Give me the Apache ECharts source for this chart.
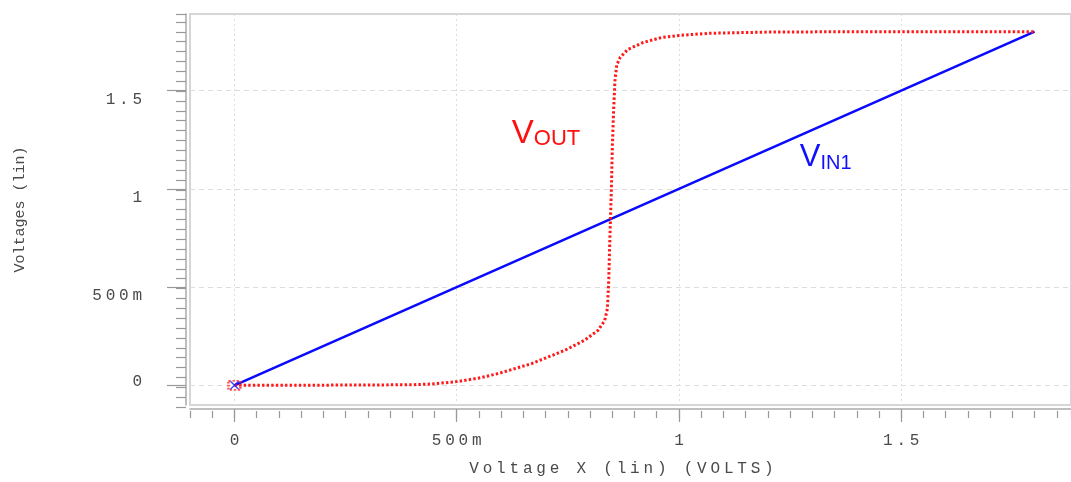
<!DOCTYPE html>
<html><head><meta charset="utf-8">
<script src="https://cdn.jsdelivr.net/npm/echarts@6/dist/echarts.min.js"></script>
<style>html,body{margin:0;padding:0;background:#fff}#c{width:1071px;height:482px}</style>
</head><body><div id="c"></div>
<script>
// ---- data ----
const vinX = [0, 0.5, 1.0, 1.5, 1.8];
const vinY = [0, 0.5, 1.0, 1.5, 1.8];
const voutX = [0, 0.1, 0.2, 0.3, 0.4, 0.445, 0.5, 0.55, 0.595, 0.669, 0.744, 0.788, 0.818, 0.833, 0.839,
  0.842, 0.844, 0.846, 0.848, 0.850, 0.853, 0.856, 0.860, 0.868, 0.885, 0.92, 0.96, 1.0, 1.07, 1.2, 1.4, 1.8];
const voutY = [0, 0, 0.001, 0.002, 0.003, 0.007, 0.019, 0.037, 0.061, 0.111, 0.179, 0.23, 0.28, 0.33, 0.39,
  0.53, 0.7, 0.85, 1.0, 1.2, 1.4, 1.55, 1.63, 1.67, 1.71, 1.745, 1.77, 1.781, 1.792, 1.798, 1.8, 1.8];
const majorTicks = [0, 0.5, 1, 1.5];
const tickLabels = ['0', '500m', '1', '1.5'];
const xAxisName = 'Voltage X (lin) (VOLTS)';
const yAxisName = 'Voltages (lin)';
const voutLabel = ['V', 'OUT'];
const vinLabel = ['V', 'IN1'];
const voutLabelAt = [0.624, 1.196];
const vinLabelAt = [1.272, 1.08];

// ---- helpers ----
function spaced(str, st) {
  return str.split('').map(c => '{' + st + '|' + c + '}').join('');
}
function labelFor(v) {
  const i = majorTicks.findIndex(t => Math.abs(t - v) < 1e-6);
  return i >= 0 ? tickLabels[i] : '';
}
const MONO = 'Liberation Mono';
const TXT = '#4a4a4a';
const charStyle = (pad) => ({fontFamily: MONO, fontSize: 16, color: TXT, padding: pad});

const gridPos = {left: 190, right: -3, top: 14, bottom: 75};
const xMin = -0.1, xMax = 1.882, yMin = -0.1, yMax = 1.89;

const chart = echarts.init(document.getElementById('c'), null, {renderer: 'canvas'});
const option = {
  animation: false,
  backgroundColor: '#fff',
  grid: [
    Object.assign({show: true, borderColor: '#d6d6d6', borderWidth: 2, containLabel: false}, gridPos),
    Object.assign({show: false}, gridPos)
  ],
  xAxis: [
    {
      type: 'value', gridIndex: 0, min: xMin, max: xMax, offset: 4,
      axisLine: {show: true, onZero: false, lineStyle: {color: '#aaa', width: 1.5}},
      axisTick: {show: true, customValues: majorTicks, length: 13, lineStyle: {color: '#999', width: 1.2}},
      axisLabel: {
        customValues: majorTicks, margin: 24,
        formatter: v => spaced(labelFor(v), 'c'),
        rich: {c: charStyle([0, 1.9, 0, 1.9])}
      },
      splitLine: {show: true, lineStyle: {color: '#ddd', type: [2, 3], width: 1}},
      name: spaced(xAxisName, 'n'), nameLocation: 'middle', nameGap: 52,
      nameTextStyle: {padding: [0, 18, 0, 0], rich: {n: charStyle([0, 1.9, 0, 1.9])}}
    },
    {
      type: 'value', gridIndex: 1, min: xMin, max: xMax, interval: 0.05, offset: 4,
      axisLine: {show: false, onZero: false},
      axisTick: {show: true, length: 7, lineStyle: {color: '#999', width: 1.2}},
      axisLabel: {show: false}, splitLine: {show: false}
    }
  ],
  yAxis: [
    {
      type: 'value', gridIndex: 0, min: yMin, max: yMax, offset: 4,
      axisLine: {show: true, onZero: false, lineStyle: {color: '#aaa', width: 1.5}},
      axisTick: {show: true, customValues: majorTicks, length: 19, lineStyle: {color: '#999', width: 1.2}},
      axisLabel: {
        customValues: majorTicks, margin: 42,
        formatter: v => spaced(labelFor(v), Math.abs(v) < 1e-6 ? 'z' : 'c'),
        rich: {c: charStyle([18, 1.9, 0, 1.9]), z: charStyle([0, 1.9, 8, 1.9])}
      },
      splitLine: {show: true, lineStyle: {color: '#ddd', type: [5, 4], width: 1}},
      name: yAxisName, nameLocation: 'middle', nameGap: 158,
      nameTextStyle: {fontFamily: MONO, fontSize: 15, color: TXT}
    },
    {
      type: 'value', gridIndex: 1, min: yMin, max: yMax, interval: 0.05, offset: 4,
      axisLine: {show: false, onZero: false},
      axisTick: {show: true, length: 10, lineStyle: {color: '#999', width: 1.2}},
      axisLabel: {show: false}, splitLine: {show: false}
    }
  ],
  series: [
    {
      name: 'VIN1', type: 'line', xAxisIndex: 0, yAxisIndex: 0, showSymbol: false,
      data: vinX.map((x, i) => [x, vinY[i]]),
      lineStyle: {color: '#0a0aff', width: 2.6}, z: 2
    },
    {
      name: 'VOUT', type: 'line', xAxisIndex: 0, yAxisIndex: 0, showSymbol: false,
      data: voutX.map((x, i) => [x, voutY[i]]),
      lineStyle: {color: '#ff1a1a', width: 3, type: [2.4, 2.2], cap: 'butt'}, z: 3
    },
    {
      type: 'scatter', xAxisIndex: 0, yAxisIndex: 0, data: [[voutX[0], voutY[0]]],
      symbol: 'rect', symbolSize: [12, 9], silent: true, z: 4,
      itemStyle: {color: 'rgba(0,0,0,0)', borderColor: '#ff2a2a', borderWidth: 2.2, borderType: [2, 1.5]}
    },
    {
      type: 'scatter', xAxisIndex: 0, yAxisIndex: 0, data: [[vinX[0], vinY[0]]],
      symbol: 'path://M0,0 L2,0 L5,3 L8,0 L10,0 L6,4 L10,8 L8,8 L5,5 L2,8 L0,8 L4,4 Z',
      symbolSize: [10, 8], silent: true, z: 5,
      itemStyle: {color: '#1a1aff'}
    }
  ]
};
chart.setOption(option);

const p1 = chart.convertToPixel({gridIndex: 0}, voutLabelAt);
const p2 = chart.convertToPixel({gridIndex: 0}, vinLabelAt);
const SANS = 'Liberation Sans';
chart.setOption({
  graphic: [
    {
      type: 'text', x: p1[0], y: p1[1], z: 10,
      style: {
        text: '{v|' + voutLabel[0] + '}{s|' + voutLabel[1] + '}',
        verticalAlign: 'bottom', align: 'left',
        rich: {
          v: {fontFamily: SANS, fontSize: 33, fill: '#ff1010', verticalAlign: 'bottom', lineHeight: 33},
          s: {fontFamily: SANS, fontSize: 22, fill: '#ff1010', verticalAlign: 'bottom', lineHeight: 15}
        }
      }
    },
    {
      type: 'text', x: p2[0], y: p2[1], z: 10,
      style: {
        text: '{v|' + vinLabel[0] + '}{s|' + vinLabel[1] + '}',
        verticalAlign: 'bottom', align: 'left',
        rich: {
          v: {fontFamily: SANS, fontSize: 31, fill: '#1010ff', verticalAlign: 'bottom', lineHeight: 31},
          s: {fontFamily: SANS, fontSize: 20, fill: '#1010ff', verticalAlign: 'bottom', lineHeight: 13}
        }
      }
    }
  ]
});
</script>
</body></html>
